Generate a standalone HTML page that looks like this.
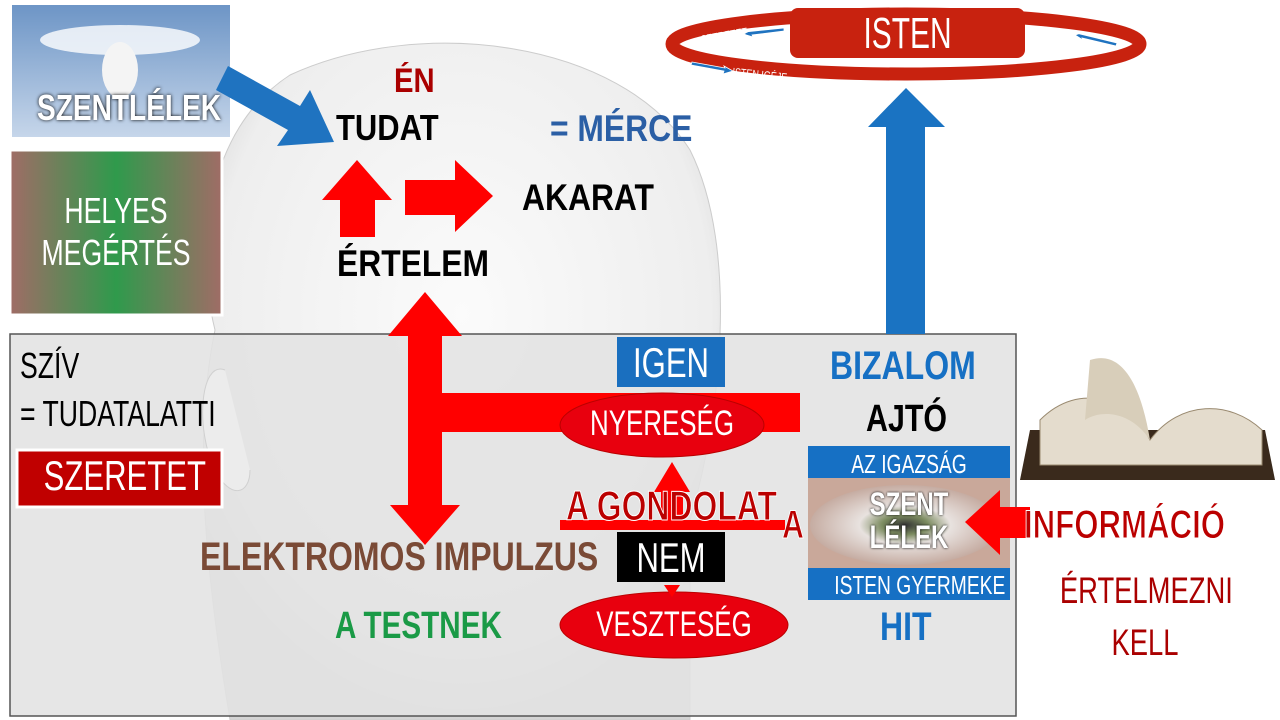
<!DOCTYPE html>
<html><head><meta charset="utf-8"><style>
body{margin:0;width:1280px;height:720px;overflow:hidden;background:#fff;position:relative;font-family:"Liberation Sans",sans-serif}
.t{position:absolute;white-space:nowrap;line-height:1;transform:scaleX(0.74);transform-origin:0 0}
.b{font-weight:bold;transform:scaleX(0.86)}
.c{transform-origin:50% 0;text-align:center}
</style></head><body>
<svg width="1280" height="720" style="position:absolute;left:0;top:0">
<defs>
<radialGradient id="hd" cx="0.5" cy="0.4" r="0.6"><stop offset="0" stop-color="#fbfbfb"/><stop offset="0.8" stop-color="#eeeeee"/><stop offset="1" stop-color="#d4d4d4"/></radialGradient>
<linearGradient id="hl" x1="0" x2="1"><stop offset="0" stop-color="#a06c66"/><stop offset="0.5" stop-color="#2f9a4c"/><stop offset="1" stop-color="#a06c66"/></linearGradient>
<linearGradient id="sky" x1="0" y1="0" x2="0" y2="1"><stop offset="0" stop-color="#6d95c6"/><stop offset="1" stop-color="#c6d6ea"/></linearGradient>
<radialGradient id="eye" cx="0.5" cy="0.5" r="0.6"><stop offset="0" stop-color="#333"/><stop offset="0.2" stop-color="#7c8c60"/><stop offset="0.4" stop-color="#e8e2df"/><stop offset="1" stop-color="#b8978a"/></radialGradient>
</defs>
<path d="M290 75 C420 15 620 40 690 150 C740 250 720 420 690 520 L690 720 L230 720 C210 600 190 450 215 330 C195 250 205 130 290 75 Z" fill="url(#hd)" stroke="#ccc"/>
<rect x="10" y="334" width="1006" height="382" fill="#e2e2e2" fill-opacity="0.88" stroke="#555" stroke-width="1.5"/>
<path d="M225 370 C200 360 195 430 215 470 C230 500 250 495 250 470" fill="#ececec" stroke="#d0d0d0"/>
<rect x="12" y="5" width="218" height="132" fill="url(#sky)"/>
<ellipse cx="120" cy="40" rx="80" ry="15" fill="#fff" opacity="0.8"/>
<ellipse cx="120" cy="70" rx="18" ry="28" fill="#f4f4f4"/>
<rect x="10" y="150" width="212" height="165" fill="url(#hl)" stroke="#fff" stroke-width="3"/>
<rect x="17" y="450" width="205" height="57" fill="#c00000" stroke="#fff" stroke-width="3"/>
<polygon points="228,66 300,106 310,90 334,142 277,146 288,130 216,90" fill="#1f73c0"/>
<polygon points="357,160 392,200 375,200 375,237 340,237 340,200 322,200" fill="#f00"/>
<polygon points="405,180 455,180 455,160 493,196 455,232 455,215 405,215" fill="#f00"/>
<polygon points="425,292 462,336 442,336 442,393 800,393 800,432 442,432 442,505 460,505 425,545 390,505 408,505 408,336 388,336" fill="#f00"/>
<ellipse cx="662" cy="425" rx="102" ry="32" fill="#e8000e" stroke="#b00" />
<ellipse cx="674" cy="625" rx="114" ry="33" fill="#e8000e" stroke="#b00"/>
<polygon points="672,462 690,492 683,492 683,520 785,520 785,530 560,530 560,520 661,520 661,492 654,492" fill="#f00"/>
<polygon points="664,585 680,585 672,597" fill="#f00"/>
<rect x="617" y="337" width="108" height="50" fill="#1a6fbf"/>
<rect x="617" y="532" width="108" height="50" fill="#000"/>
<ellipse cx="906" cy="44" rx="234" ry="30" fill="none" stroke="#c8220f" stroke-width="13"/>
<rect x="790" y="8" width="235" height="50" rx="8" fill="#c8220f"/>
<polygon points="745,32 784,28 784,31 752,35 753,37 743,34 752,30" fill="#1f73c0" stroke="#fff" stroke-width="0.8"/>
<polygon points="1080,34 1117,43 1116,46 1082,38 1083,40 1075,35 1084,32" fill="#1f73c0" stroke="#fff" stroke-width="0.8"/>
<polygon points="692,62 725,68 724,66 733,71 723,74 724,71 691,65" fill="#1f73c0" stroke="#fff" stroke-width="0.8"/>
<polygon points="906,88 945,127 925,127 925,334 886,334 886,127 868,127" fill="#1a73c2"/>
<rect x="808" y="446" width="202" height="154" fill="#c9a89a"/>
<ellipse cx="905" cy="525" rx="95" ry="40" fill="url(#eye)"/>
<rect x="808" y="446" width="202" height="32" fill="#1670c4"/>
<rect x="808" y="568" width="202" height="32" fill="#1670c4"/>
<polygon points="965,522 1000,490 1000,507 1030,507 1030,538 1000,538 1000,555" fill="#f00"/>
<path d="M1030 430 L1265 430 L1275 480 L1020 480 Z" fill="#3a2a1c"/>
<path d="M1040 420 C1080 380 1130 400 1150 440 C1180 400 1230 400 1262 430 L1262 465 L1040 465 Z" fill="#e4dccd" stroke="#9a8a70"/>
<path d="M1090 360 C1120 350 1140 380 1150 440 C1130 410 1100 410 1085 420 Z" fill="#d8ceba"/>
</svg>
<div class="t b" style="left:37px;top:90px;font-size:36px;color:#fff;text-shadow:0 0 4px #000;transform:scaleX(0.78)">SZENTLÉLEK</div>
<div class="t c" style="left:10px;top:190px;width:212px;font-size:36px;color:#fff;line-height:42px">HELYES<br>MEGÉRTÉS</div>
<div class="t c" style="left:17px;top:455px;width:205px;font-size:42px;color:#fff">SZERETET</div>
<div class="t" style="left:20px;top:348px;font-size:36px;color:#000">SZÍV</div>
<div class="t" style="left:20px;top:396px;font-size:36px;color:#000">= TUDATALATTI</div>
<div class="t b" style="left:394px;top:64px;font-size:34px;color:#a00">ÉN</div>
<div class="t b" style="left:336px;top:110px;font-size:36px;color:#000">TUDAT</div>
<div class="t b" style="left:550px;top:110px;font-size:37px;color:#2b5fa5">= MÉRCE</div>
<div class="t b" style="left:522px;top:179px;font-size:37px;color:#000">AKARAT</div>
<div class="t b" style="left:337px;top:245px;font-size:37px;color:#000">ÉRTELEM</div>
<div class="t c" style="left:617px;top:342px;width:108px;font-size:42px;color:#fff">IGEN</div>
<div class="t c" style="left:560px;top:406px;width:204px;font-size:35px;color:#fff">NYERESÉG</div>
<div class="t b" style="left:566px;top:485px;font-size:42px;color:#b00;-webkit-text-stroke:1px #fff;transform:scaleX(0.76)">A GONDOLAT</div>
<div class="t b" style="left:782px;top:505px;font-size:40px;color:#b00;-webkit-text-stroke:1px #fff;transform:scaleX(0.76)">A</div>
<div class="t b" style="left:200px;top:537px;font-size:40px;color:#7a4a36;transform:scaleX(0.8)">ELEKTROMOS IMPULZUS</div>
<div class="t c" style="left:617px;top:537px;width:108px;font-size:42px;color:#fff">NEM</div>
<div class="t b" style="left:335px;top:607px;font-size:38px;color:#1a9a46;transform:scaleX(0.78)">A TESTNEK</div>
<div class="t c" style="left:560px;top:607px;width:228px;font-size:35px;color:#fff">VESZTESÉG</div>
<div class="t b" style="left:830px;top:346px;font-size:40px;color:#1670c4;transform:scaleX(0.8)">BIZALOM</div>
<div class="t b" style="left:866px;top:400px;font-size:38px;color:#000;transform:scaleX(0.8)">AJTÓ</div>
<div class="t c" style="left:808px;top:451px;width:202px;font-size:26px;color:#fff">AZ IGAZSÁG</div>
<div class="t b c" style="left:808px;top:488px;width:202px;font-size:32px;line-height:33px;color:#fff;text-shadow:0 0 3px #000;transform:scaleX(0.75)">SZENT<br>LÉLEK</div>
<div class="t c" style="left:808px;top:572px;width:202px;font-size:26px;color:#fff">ISTEN GYERMEKE</div>
<div class="t b" style="left:880px;top:607px;font-size:40px;color:#1670c4;transform:scaleX(0.8)">HIT</div>
<div class="t b" style="left:1024px;top:505px;font-size:40px;color:#b00;-webkit-text-stroke:1px #fff;transform:scaleX(0.78)">INFORMÁCIÓ</div>
<div class="t c" style="left:1030px;top:565px;width:230px;font-size:37px;line-height:52px;color:#a00">ÉRTELMEZNI<br>KELL</div>
<div class="t c" style="left:790px;top:12px;width:235px;font-size:44px;color:#fff;transform:scaleX(0.68)">ISTEN</div>
<div class="t" style="left:700px;top:34px;font-size:12px;color:#fff;transform:rotate(-10deg) scaleX(0.75)">SZERETET</div>
<div class="t" style="left:1026px;top:24px;font-size:12px;color:#fff;transform:rotate(8deg) scaleX(0.75)">GYÜMÖLCS</div>
<div class="t" style="left:733px;top:66px;font-size:12px;color:#fff;transform:rotate(6deg) scaleX(0.75)">ISTEN IGÉJE</div>
</body></html>
